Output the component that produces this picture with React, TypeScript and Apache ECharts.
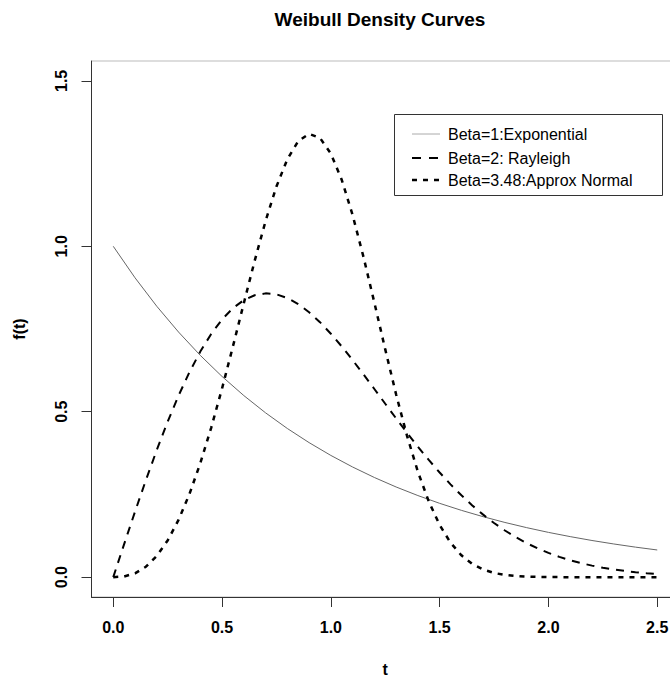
import React, { useEffect, useRef } from "react";
import * as echarts from "echarts";

// t grid (step 0.05) used by the Rayleigh and Approx Normal curves
const tFine = [
  0, 0.05, 0.1, 0.15, 0.2, 0.25, 0.3, 0.35, 0.4, 0.45, 0.5, 0.55, 0.6, 0.65, 0.7, 0.75, 0.8, 0.85, 0.9, 0.95,
  1.0, 1.05, 1.1, 1.15, 1.2, 1.25, 1.3, 1.35, 1.4, 1.45, 1.5, 1.55, 1.6, 1.65, 1.7, 1.75, 1.8, 1.85, 1.9, 1.95,
  2.0, 2.05, 2.1, 2.15, 2.2, 2.25, 2.3, 2.35, 2.4, 2.45, 2.5,
];
// t grid (step 0.1) used by the exponential curve
const tCoarse = [
  0, 0.1, 0.2, 0.3, 0.4, 0.5, 0.6, 0.7, 0.8, 0.9, 1.0, 1.1, 1.2, 1.3, 1.4, 1.5, 1.6, 1.7, 1.8, 1.9, 2.0, 2.1,
  2.2, 2.3, 2.4, 2.5,
];

const exponentialValues = [
  1.0, 0.9048, 0.8187, 0.7408, 0.6703, 0.6065, 0.5488, 0.4966, 0.4493, 0.4066, 0.3679, 0.3329, 0.3012, 0.2725,
  0.2466, 0.2231, 0.2019, 0.1827, 0.1653, 0.1496, 0.1353, 0.1225, 0.1108, 0.1003, 0.0907, 0.0821,
];

const rayleighValues = [
  0, 0.0998, 0.198, 0.2933, 0.3843, 0.4697, 0.5484, 0.6193, 0.6817, 0.735, 0.7788, 0.8129, 0.8372, 0.852,
  0.8577, 0.8547, 0.8437, 0.8254, 0.8007, 0.7706, 0.7358, 0.6973, 0.656, 0.6129, 0.5686, 0.524, 0.4797,
  0.4364, 0.3944, 0.3542, 0.3162, 0.2805, 0.2474, 0.2168, 0.189, 0.1637, 0.141, 0.1207, 0.1028, 0.087,
  0.0733, 0.0613, 0.0511, 0.0423, 0.0348, 0.0285, 0.0232, 0.0188, 0.0151, 0.0121, 0.0097,
];

const approxNormalValues = [
  0, 0.0021, 0.0115, 0.0315, 0.0641, 0.1109, 0.1731, 0.251, 0.3442, 0.4514, 0.5703, 0.6974, 0.8279, 0.9563,
  1.0763, 1.1807, 1.2632, 1.3178, 1.34, 1.3275, 1.2802, 1.2008, 1.0943, 0.9678, 0.8296, 0.6883, 0.552,
  0.4273, 0.3187, 0.2287, 0.1576, 0.1042, 0.0659, 0.0398, 0.0229, 0.0126, 0.0066, 0.0032, 0.0015, 0.0007,
  0.0003, 0.0001, 0.0, 0.0, 0.0, 0.0, 0.0, 0.0, 0.0, 0.0, 0.0,
];

const xTicks = [0, 0.5, 1.0, 1.5, 2.0, 2.5];
const yTicks = [0, 0.5, 1.0, 1.5];

const legendLabels = ["Beta=1:Exponential", "Beta=2: Rayleigh", "Beta=3.48:Approx Normal"];
const titleText = "Weibull Density Curves";

const FONT = "'Liberation Sans', Arial, Helvetica, sans-serif";

export default function App() {
  const ref = useRef<HTMLDivElement>(null);

  useEffect(() => {
    if (!ref.current) return;
    const chart = echarts.init(ref.current, null, { renderer: "svg" });

    const pair = (xs: number[], ys: number[]) => xs.map((x, i) => [x, ys[i]]);

    const legendY = [134, 158, 180];

    chart.setOption({
      animation: false,
      backgroundColor: "#ffffff",
      textStyle: { fontFamily: FONT },
      grid: {
        left: 91.5,
        top: 61,
        width: 587.5,
        height: 536,
        show: true,
        borderColor: "#bbbbbb",
        borderWidth: 1,
        backgroundColor: "transparent",
        containLabel: false,
        outerBoundsMode: "none",
      },
      xAxis: {
        type: "value",
        min: -0.1,
        max: 2.6,
        name: "t",
        nameLocation: "middle",
        nameGap: 64,
        nameTextStyle: { fontFamily: FONT, fontSize: 16, fontWeight: "bold", color: "#000" },
        axisLine: { show: true, onZero: false, lineStyle: { color: "#333", width: 1 } },
        axisTick: { show: true, inside: false, length: 10, customValues: xTicks, lineStyle: { color: "#333" } },
        axisLabel: {
          customValues: xTicks,
          margin: 22,
          fontFamily: FONT,
          fontSize: 16,
          fontWeight: "bold",
          color: "#000",
          formatter: (v: number) => v.toFixed(1),
        },
        splitLine: { show: false },
      },
      yAxis: {
        type: "value",
        min: -0.06,
        max: 1.56,
        name: "f(t)",
        nameLocation: "middle",
        nameGap: 64,
        nameTextStyle: { fontFamily: FONT, fontSize: 16, fontWeight: "bold", color: "#000" },
        axisLine: { show: true, onZero: false, lineStyle: { color: "#333", width: 1 } },
        axisTick: { show: true, inside: false, length: 10, customValues: yTicks, lineStyle: { color: "#333" } },
        axisLabel: {
          customValues: yTicks,
          rotate: 90,
          margin: 22,
          fontFamily: FONT,
          fontSize: 16,
          fontWeight: "bold",
          color: "#000",
          formatter: (v: number) => v.toFixed(1),
        },
        splitLine: { show: false },
      },
      series: [
        {
          name: legendLabels[0],
          type: "line",
          data: pair(tCoarse, exponentialValues),
          showSymbol: false,
          symbol: "none",
          lineStyle: { color: "#666", width: 1 },
          silent: true,
        },
        {
          name: legendLabels[1],
          type: "line",
          data: pair(tFine, rayleighValues),
          showSymbol: false,
          symbol: "none",
          lineStyle: { color: "#000", width: 2, type: [8, 7] },
          silent: true,
        },
        {
          name: legendLabels[2],
          type: "line",
          data: pair(tFine, approxNormalValues),
          showSymbol: false,
          symbol: "none",
          lineStyle: { color: "#000", width: 2.5, type: [5, 6] },
          silent: true,
        },
      ],
      graphic: [
        {
          type: "text",
          x: 380,
          y: 19,
          style: {
            text: titleText,
            font: `bold 19px ${FONT}`,
            fill: "#000",
            textAlign: "center",
            textVerticalAlign: "middle",
          },
        },
        {
          type: "rect",
          shape: { x: 394.5, y: 114.5, width: 268, height: 81 },
          style: { fill: "#fff", stroke: "#333", lineWidth: 1 },
        },
        {
          type: "line",
          shape: { x1: 412, y1: legendY[0], x2: 440, y2: legendY[0] },
          style: { stroke: "#aaa", lineWidth: 1 },
        },
        {
          type: "line",
          shape: { x1: 412, y1: legendY[1], x2: 440, y2: legendY[1] },
          style: { stroke: "#000", lineWidth: 2, lineDash: [9, 8] },
        },
        {
          type: "line",
          shape: { x1: 412, y1: legendY[2], x2: 440, y2: legendY[2] },
          style: { stroke: "#000", lineWidth: 2.5, lineDash: [5, 6] },
        },
        ...legendLabels.map((label, i) => ({
          type: "text",
          x: 448,
          y: legendY[i],
          style: {
            text: label,
            font: `16px ${FONT}`,
            fill: "#000",
            textAlign: "left",
            textVerticalAlign: "middle",
          },
        })),
      ],
    });

    return () => chart.dispose();
  }, []);

  return (
    <div
      ref={ref}
      style={{ position: "absolute", left: 0, top: 0, width: 670, height: 678, background: "#fff" }}
    />
  );
}
